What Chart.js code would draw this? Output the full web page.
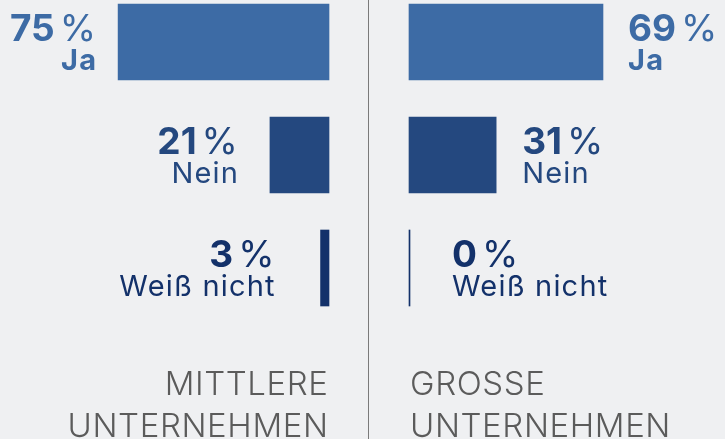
<!DOCTYPE html>
<html>
<head>
<meta charset="utf-8">
<script src="https://cdn.jsdelivr.net/npm/chart.js@4.4.1/dist/chart.umd.min.js"></script>
<style>
  html, body { margin:0; padding:0; background:#eff0f2; }
  #wrap { position:relative; width:725px; height:439px; overflow:hidden; background:#eff0f2; }
  canvas { position:absolute; left:0; top:0; }
</style>
</head>
<body>
<div id="wrap">
  <canvas id="left" width="725" height="439"></canvas>
  <canvas id="right" width="725" height="439"></canvas>
</div>
<script>
// ---- data ----
const categories = ['Ja', 'Nein', 'Weiß nicht'];
const mittlereValues = [75, 21, 3];
const grosseValues = [69, 31, 0];
const mittlereTitle = ['MITTLERE', 'UNTERNEHMEN'];
const grosseTitle = ['GROSSE', 'UNTERNEHMEN'];

// ---- style ----
const barColors = ['#3d6ba5', '#24487f', '#13316a'];
const labelWeights = ['bold', 'normal', 'normal'];
const FONT = 'Inter, "Noto Sans", sans-serif';
const leftGaps = [22, 32, 46];
const rightGaps = [25, 26, 42];
const LABEL_LS = 1.2;
const TITLE_LS = 0.6;

function drawPercent(ctx, value, x, y, align, color) {
  const num = String(value);
  ctx.fillStyle = color;
  ctx.textBaseline = 'alphabetic';
  ctx.letterSpacing = '0px';
  ctx.font = 'bold 37px ' + FONT;
  const wNum = ctx.measureText(num).width;
  ctx.font = 'normal 37px ' + FONT;
  const wPct = ctx.measureText('%').width;
  const gap = 5;
  const total = wNum + gap + wPct;
  const startX = align === 'right' ? x - total : x;
  ctx.textAlign = 'left';
  ctx.font = 'bold 37px ' + FONT;
  ctx.fillText(num, startX, y);
  ctx.font = 'normal 37px ' + FONT;
  ctx.fillText('%', startX + wNum + gap, y);
}

function labelPlugin(side, values, gaps, title) {
  return {
    id: 'labels_' + side,
    afterDatasetsDraw(chart) {
      const ctx = chart.ctx;
      const meta = chart.getDatasetMeta(0);
      ctx.save();
      meta.data.forEach((bar, i) => {
        const color = barColors[i];
        const xEnd = bar.x;
        const y = bar.y;
        if (side === 'left') {
          const tx = xEnd - gaps[i];
          drawPercent(ctx, values[i], tx, y - 1, 'right', color);
          ctx.font = labelWeights[i] + ' 29px ' + FONT;
          ctx.letterSpacing = LABEL_LS + 'px';
          ctx.textAlign = 'right';
          ctx.fillText(categories[i], tx + LABEL_LS, y + 28);
        } else {
          const tx = xEnd + gaps[i];
          drawPercent(ctx, values[i], tx, y - 1, 'left', color);
          ctx.font = labelWeights[i] + ' 29px ' + FONT;
          ctx.letterSpacing = LABEL_LS + 'px';
          ctx.textAlign = 'left';
          ctx.fillText(categories[i], tx, y + 28);
        }
      });
      // panel title
      const area = chart.chartArea;
      ctx.fillStyle = '#5b5b5b';
      ctx.font = '300 33px ' + FONT;
      ctx.letterSpacing = TITLE_LS + 'px';
      ctx.textBaseline = 'alphabetic';
      if (side === 'left') {
        ctx.textAlign = 'right';
        ctx.fillText(title[0], area.right - 1 + TITLE_LS, 395);
        ctx.fillText(title[1], area.right - 1 + TITLE_LS, 437);
        // divider
        ctx.fillStyle = '#7a7a7a';
        ctx.fillRect(368, 0, 1, chart.height);
      } else {
        ctx.textAlign = 'left';
        ctx.fillText(title[0], area.left + 1, 395);
        ctx.fillText(title[1], area.left + 1, 437);
      }
      ctx.restore();
    }
  };
}

function makeChart(id, side, values, max, padding, gaps, title) {
  return new Chart(document.getElementById(id), {
    type: 'bar',
    data: {
      labels: categories,
      datasets: [{
        data: values,
        backgroundColor: barColors,
        borderWidth: 0,
        barThickness: 76,
        minBarLength: 1,
        clip: false
      }]
    },
    options: {
      indexAxis: 'y',
      responsive: false,
      animation: false,
      events: [],
      layout: { padding: padding },
      plugins: { legend: { display: false }, tooltip: { enabled: false } },
      scales: {
        x: { type: 'linear', min: 0, max: max, reverse: side === 'left', display: false },
        y: { type: 'category', offset: false, display: false }
      }
    },
    plugins: [labelPlugin(side, values, gaps, title)]
  });
}

makeChart('left', 'left', mittlereValues, 117, { left: 0, right: 396, top: 42, bottom: 171 }, leftGaps, mittlereTitle);
makeChart('right', 'right', grosseValues, 112.4, { left: 409, right: 0, top: 42, bottom: 171 }, rightGaps, grosseTitle);
</script>
</body>
</html>
